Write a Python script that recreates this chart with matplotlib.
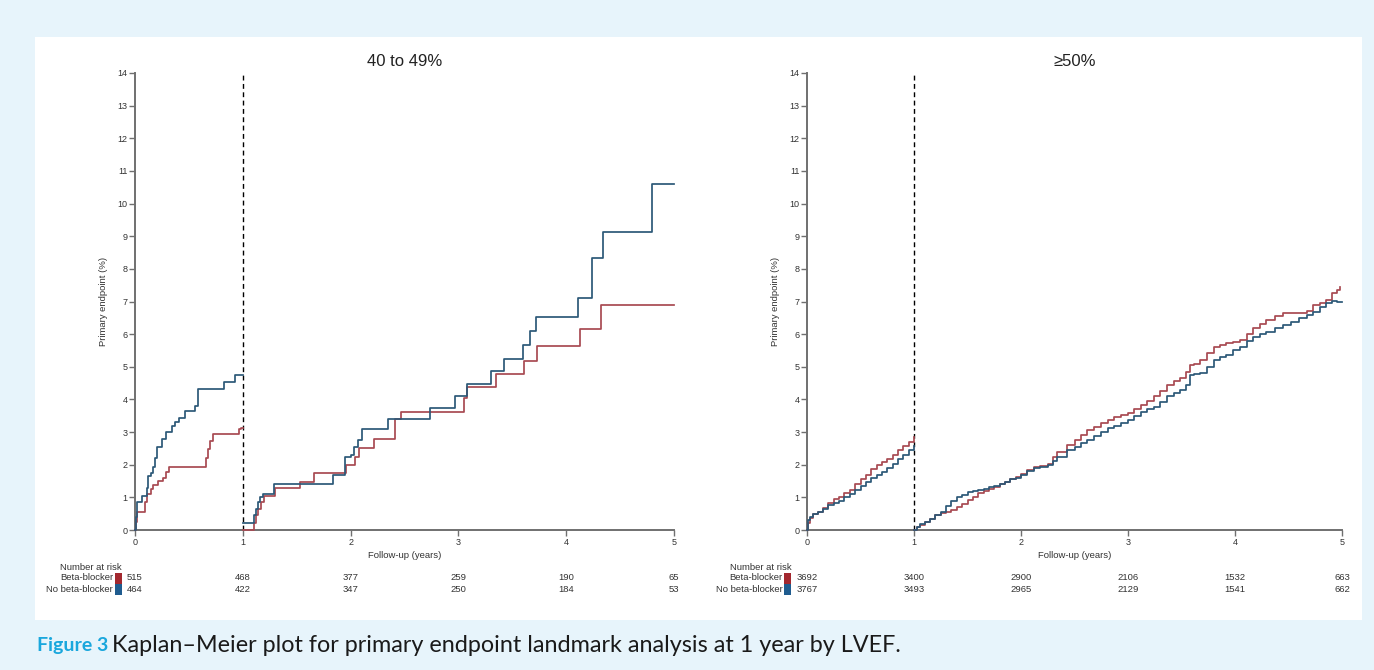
#!/usr/bin/env python3
"""
Kaplan-Meier landmark plot (1 year) of the primary endpoint by LVEF group.
"""

import matplotlib
matplotlib.use('Agg')
import matplotlib.pyplot as plt
from matplotlib.patches import Rectangle
from matplotlib import transforms

# ---- data ----
# LVEF 40 to 49%, before the landmark (years, cumulative %)
mr_bb_pre_t = [0, 0.006, 0.02, 0.093, 0.114, 0.145, 0.17, 0.216, 0.262, 0.287, 0.318,
               0.66, 0.679, 0.694, 0.719, 0.966, 0.98, 1.0]
mr_bb_pre_v = [0, 0.25, 0.55, 0.85, 1.1, 1.26, 1.38, 1.5, 1.6, 1.77, 1.93,
               2.22, 2.48, 2.73, 2.93, 3.08, 3.14, 3.14]
mr_nobb_pre_t = [0, 0.006, 0.015, 0.022, 0.062, 0.108, 0.123, 0.15, 0.17, 0.19, 0.207,
                 0.247, 0.287, 0.34, 0.375, 0.41, 0.463, 0.556, 0.586, 0.827, 0.926, 1.0]
mr_nobb_pre_v = [0, 0.39, 0.64, 0.85, 1.05, 1.3, 1.66, 1.75, 1.92, 2.2, 2.55,
                 2.79, 3.0, 3.19, 3.3, 3.43, 3.65, 3.8, 4.32, 4.52, 4.75, 4.75]

# LVEF 40 to 49%, after the landmark
mr_bb_post_t = [1.0, 1.10, 1.12, 1.14, 1.17, 1.20, 1.30, 1.53, 1.66, 1.96, 2.04, 2.08,
                2.22, 2.41, 2.47, 3.05, 3.08, 3.35, 3.61, 3.73, 4.13, 4.32, 5.0]
mr_bb_post_v = [0, 0.22, 0.45, 0.65, 0.85, 1.05, 1.28, 1.48, 1.76, 1.99, 2.24, 2.5,
                2.8, 3.39, 3.62, 4.03, 4.39, 4.77, 5.19, 5.64, 6.16, 6.88, 6.88]
mr_nobb_post_t = [1.0, 1.10, 1.12, 1.14, 1.16, 1.19, 1.29, 1.84, 1.95, 2.00, 2.03, 2.07,
                  2.11, 2.35, 2.74, 2.97, 3.08, 3.30, 3.42, 3.60, 3.66, 3.72, 4.11, 4.24,
                  4.34, 4.80, 5.0]
mr_nobb_post_v = [0.22, 0.45, 0.65, 0.85, 1.0, 1.1, 1.4, 1.7, 2.24, 2.3, 2.55, 2.75,
                  3.08, 3.39, 3.73, 4.10, 4.47, 4.87, 5.24, 5.68, 6.09, 6.54, 7.10, 8.33,
                  9.12, 10.6, 10.6]

# LVEF >=50%, before the landmark
pe_pre_t = [0, 0.01, 0.03, 0.06, 0.1, 0.15, 0.2, 0.25, 0.3, 0.35, 0.4, 0.45, 0.5,
            0.55, 0.6, 0.65, 0.7, 0.75, 0.8, 0.85, 0.9, 0.95, 1.0]
pe_bb_pre_v = [0, 0.2, 0.38, 0.5, 0.56, 0.68, 0.82, 0.95, 1.02, 1.12, 1.24, 1.42, 1.57,
               1.7, 1.87, 2.0, 2.08, 2.16, 2.3, 2.45, 2.57, 2.7, 2.84]
pe_nobb_pre_v = [0, 0.3, 0.4, 0.5, 0.56, 0.65, 0.76, 0.84, 0.9, 1.0, 1.1, 1.22, 1.35,
                 1.47, 1.6, 1.7, 1.78, 1.9, 2.02, 2.18, 2.3, 2.44, 2.58]

# LVEF >=50%, after the landmark
pe_bb_post_t = [1.0, 1.03, 1.06, 1.1, 1.15, 1.2, 1.25, 1.3, 1.35, 1.4,
                1.45, 1.5, 1.55, 1.6, 1.65, 1.7, 1.75, 1.8, 1.85, 1.9,
                1.95, 2.0, 2.06, 2.12, 2.18, 2.25, 2.3, 2.34, 2.43, 2.5,
                2.56, 2.62, 2.68, 2.75, 2.81, 2.87, 2.93, 3.0, 3.06, 3.12,
                3.18, 3.24, 3.3, 3.36, 3.43, 3.49, 3.54, 3.58, 3.62, 3.67,
                3.74, 3.8, 3.86, 3.92, 3.98, 4.05, 4.11, 4.17, 4.23, 4.29,
                4.37, 4.45, 4.52, 4.6, 4.67, 4.73, 4.79, 4.85, 4.91, 4.95, 4.98]
pe_bb_post_v = [0.0, 0.08, 0.15, 0.25, 0.35, 0.45, 0.52, 0.56, 0.62, 0.7,
                0.8, 0.92, 1.02, 1.12, 1.2, 1.27, 1.33, 1.4, 1.47, 1.55,
                1.62, 1.72, 1.85, 1.94, 1.96, 2.02, 2.25, 2.4, 2.6, 2.75,
                2.91, 3.05, 3.17, 3.28, 3.37, 3.45, 3.52, 3.58, 3.7, 3.83,
                3.95, 4.09, 4.25, 4.44, 4.55, 4.65, 4.85, 5.06, 5.1, 5.21,
                5.42, 5.62, 5.68, 5.72, 5.77, 5.82, 6.0, 6.18, 6.3, 6.43,
                6.55, 6.64, 6.65, 6.66, 6.72, 6.89, 6.95, 7.04, 7.25, 7.35, 7.45]
pe_nobb_post_t = [1.0, 1.03, 1.06, 1.1, 1.15, 1.2, 1.25, 1.3, 1.35, 1.4,
                  1.45, 1.5, 1.55, 1.6, 1.65, 1.7, 1.75, 1.8, 1.85, 1.9,
                  1.95, 2.0, 2.06, 2.12, 2.18, 2.25, 2.3, 2.34, 2.43, 2.5,
                  2.56, 2.62, 2.68, 2.75, 2.81, 2.87, 2.93, 3.0, 3.06, 3.12,
                  3.18, 3.24, 3.3, 3.36, 3.43, 3.49, 3.54, 3.58, 3.62, 3.67,
                  3.74, 3.8, 3.86, 3.92, 3.98, 4.05, 4.11, 4.17, 4.23, 4.29,
                  4.37, 4.45, 4.52, 4.6, 4.67, 4.73, 4.79, 4.85, 4.91, 4.95, 5.0]
pe_nobb_post_v = [0, 0.1, 0.17, 0.25, 0.35, 0.45, 0.55, 0.75, 0.88, 1.0,
                  1.08, 1.15, 1.18, 1.22, 1.27, 1.32, 1.36, 1.4, 1.47, 1.55,
                  1.6, 1.68, 1.8, 1.89, 1.92, 1.98, 2.12, 2.24, 2.45, 2.55,
                  2.65, 2.76, 2.87, 3.0, 3.11, 3.2, 3.27, 3.37, 3.5, 3.63,
                  3.7, 3.78, 3.93, 4.09, 4.2, 4.29, 4.45, 4.75, 4.77, 4.8,
                  5.0, 5.21, 5.3, 5.36, 5.5, 5.62, 5.78, 5.92, 6.0, 6.08,
                  6.18, 6.28, 6.38, 6.48, 6.58, 6.69, 6.82, 6.94, 7.02, 7.0, 7.0]

# Number at risk
risk_times = [0, 1, 2, 3, 4, 5]
mr_bb_risk = [515, 468, 377, 259, 190, 65]
mr_nobb_risk = [464, 422, 347, 250, 184, 53]
pe_bb_risk = [3692, 3400, 2900, 2106, 1532, 663]
pe_nobb_risk = [3767, 3493, 2965, 2129, 1541, 662]

group_labels = ['Beta-blocker', 'No beta-blocker']

# ---- style ----
plt.rcParams['font.family'] = ['Liberation Sans', 'DejaVu Sans']
W, H = 1374, 670
RED = '#a84a52'
BLUE = '#2c5877'
RED_KEY = '#a3282f'
BLUE_KEY = '#1f5c8f'
AXIS_GREY = '#707070'
TEXT = '#333333'
CAPTION_FONT = ['Lato', 'DejaVu Sans']


def fy(y_px):
    """Figure fraction from a pixel row counted from the top."""
    return 1 - y_px / H


def draw_panel(fig, rect, title, curves, risk_rows):
    x0, x1 = rect
    ax = fig.add_axes([x0 / W, fy(530), (x1 - x0) / W, 457 / H])
    ax.set_facecolor('none')
    ax.set_xlim(0, 5)
    ax.set_ylim(0, 14)

    for t, v, c in curves:
        ax.step(t, v, where='post', color=c, lw=1.25, clip_on=False, zorder=3)
    ax.plot([1, 1], [0, 14], color='black', lw=1.0, dashes=(3.5, 2.5), zorder=2)

    for s in ['top', 'right']:
        ax.spines[s].set_visible(False)
    for s in ['left', 'bottom']:
        ax.spines[s].set_color(AXIS_GREY)
        ax.spines[s].set_linewidth(1.4)
    ax.set_xticks(risk_times)
    ax.set_yticks(range(15))
    ax.tick_params(length=4, width=1.0, color=AXIS_GREY, labelsize=6.5,
                   labelcolor=TEXT, pad=1.5)

    xc = (x0 + x1) / 2 / W
    fig.text(xc, fy(62), title, ha='center', va='center', fontsize=12, color='#222222')
    fig.text(xc, fy(555), 'Follow-up (years)', ha='center', va='center',
             fontsize=6.8, color=TEXT)
    fig.text((x0 - 32) / W, fy(301), 'Primary endpoint (%)', ha='center', va='center',
             rotation=90, fontsize=6.8, color=TEXT)

    # number at risk table
    trans = transforms.blended_transform_factory(ax.transData, fig.transFigure)
    row_y = [578, 589]
    first = []
    for row, y in zip(risk_rows, row_y):
        for i, (tx, n) in enumerate(zip(risk_times, row)):
            t = ax.text(tx, fy(y), str(n), transform=trans, ha='center', va='center',
                        fontsize=6.8, color=TEXT, clip_on=False)
            if i == 0:
                first.append(t)

    renderer = fig.canvas.get_renderer()
    left_px = min(t.get_window_extent(renderer).x0 for t in first)
    key_right = left_px - 5
    key_w = 7
    for (y, c, label) in zip(row_y, [RED_KEY, BLUE_KEY], group_labels):
        fig.patches.append(Rectangle(((key_right - key_w) / W, fy(y + 5.5)), key_w / W, 11 / H,
                                     transform=fig.transFigure, facecolor=c,
                                     edgecolor='none', zorder=1))
        fig.text((key_right - key_w - 2) / W, fy(y), label, ha='right', va='center',
                 fontsize=6.8, color=TEXT)
    fig.text(key_right / W, fy(567), 'Number at risk', ha='right', va='center',
             fontsize=6.8, color=TEXT)
    return ax


fig = plt.figure(figsize=(W / 100, H / 100), dpi=100, facecolor='#e7f4fb')
# white card behind both panels
fig.patches.append(Rectangle((35 / W, fy(620)), 1327 / W, 583 / H,
                             transform=fig.transFigure, facecolor='white',
                             edgecolor='none', zorder=-5))

draw_panel(fig, (135, 674), '40 to 49%',
           [(mr_bb_pre_t, mr_bb_pre_v, RED), (mr_nobb_pre_t, mr_nobb_pre_v, BLUE),
            (mr_bb_post_t, mr_bb_post_v, RED), (mr_nobb_post_t, mr_nobb_post_v, BLUE)],
           [mr_bb_risk, mr_nobb_risk])
draw_panel(fig, (807, 1342), '\u226550%',
           [(pe_pre_t, pe_bb_pre_v, RED), (pe_pre_t, pe_nobb_pre_v, BLUE),
            (pe_bb_post_t, pe_bb_post_v, RED), (pe_nobb_post_t, pe_nobb_post_v, BLUE)],
           [pe_bb_risk, pe_nobb_risk])

# caption
fig.text(37 / W, fy(645), 'Figure 3', ha='left', va='center', fontsize=14,
         fontweight='bold', color='#1aa7dd', family=CAPTION_FONT)
fig.text(112 / W, fy(645),
         'Kaplan\u2013Meier plot for primary endpoint landmark analysis at 1 year by LVEF.',
         ha='left', va='center', fontsize=16.8, color='#1a1a1a', family=CAPTION_FONT)

fig.savefig('out.png', dpi=100, facecolor=fig.get_facecolor())
